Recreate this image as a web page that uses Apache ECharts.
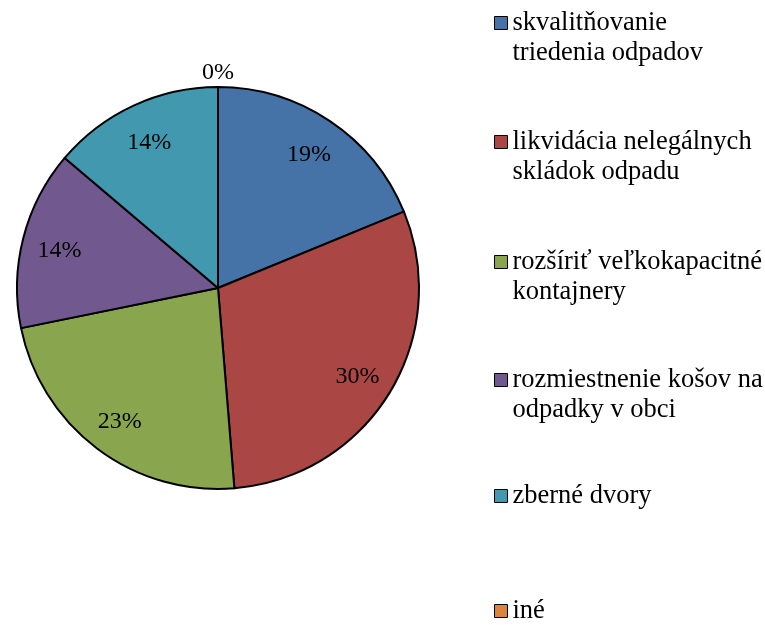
<!DOCTYPE html>
<html>
<head>
<meta charset="utf-8">
<script src="https://cdn.jsdelivr.net/npm/echarts@6/dist/echarts.min.js"></script>
<style>
    html, body { margin: 0; padding: 0; background: #fff; }
    #pie-chart { width: 765px; height: 625px; }
</style>
</head>
<body>
<div id="pie-chart"></div>
<script>
    // categories as written in the legend (line breaks as shown)
    var categories = [
        'skvalitňovanie\ntriedenia odpadov',
        'likvidácia nelegálnych\nskládok odpadu',
        'rozšíriť veľkokapacitné\nkontajnery',
        'rozmiestnenie košov na\nodpadky v obci',
        'zberné dvory',
        'iné'
    ];
    var values = [18.8, 29.9, 23.1, 14.4, 13.8, 0];
    var colors = ['#4572A7', '#AA4643', '#89A54E', '#71588F', '#4198AF', '#DB843D'];
    // marker centre y of every legend entry
    var legendY = [23, 142, 262, 380, 496, 611];

    var cx = 218, cy = 288, radius = 201;
    var font = '"Liberation Serif", "Times New Roman", serif';

    var legends = categories.map(function (name, i) {
        var twoLines = name.indexOf('\n') >= 0;
        return {
            left: 494,
            top: legendY[i] - (twoLines ? 45 : 15),
            padding: 0,
            orient: 'vertical',
            selectedMode: false,
            icon: 'rect',
            itemWidth: 13,
            itemHeight: 13,
            itemStyle: { borderColor: '#000', borderWidth: 1 },
            data: [name],
            // blank first line so the marker sits beside the first text line
            formatter: function (n) { return twoLines ? '\n' + n : n; },
            textStyle: {
                fontFamily: font,
                fontSize: 26.5,
                color: '#000',
                lineHeight: 30
            }
        };
    });

    var chart = echarts.init(document.getElementById('pie-chart'));
    chart.setOption({
        animation: false,
        color: colors,
        legend: legends,
        series: [{
            type: 'pie',
            center: [cx, cy],
            radius: radius,
            startAngle: 90,
            clockwise: true,
            minShowLabelAngle: 0,
            itemStyle: { borderColor: '#000', borderWidth: 2 },
            label: {
                show: true,
                position: 'inside',
                fontFamily: font,
                fontSize: 24,
                color: '#000',
                formatter: function (p) { return Math.round(p.percent) + '%'; }
            },
            labelLine: { show: false },
            labelLayout: function (p) {
                var r = p.labelRect;
                var lx = r.x + r.width / 2, ly = r.y + r.height / 2;
                var k = values[p.dataIndex] === 0 ? 1.11 : 0.58;
                return { dx: (lx - cx) * k, dy: (ly - cy) * k + 3 };
            },
            emphasis: { disabled: true },
            data: categories.map(function (name, i) {
                return { name: name, value: values[i] };
            })
        }]
    });
</script>
</body>
</html>
